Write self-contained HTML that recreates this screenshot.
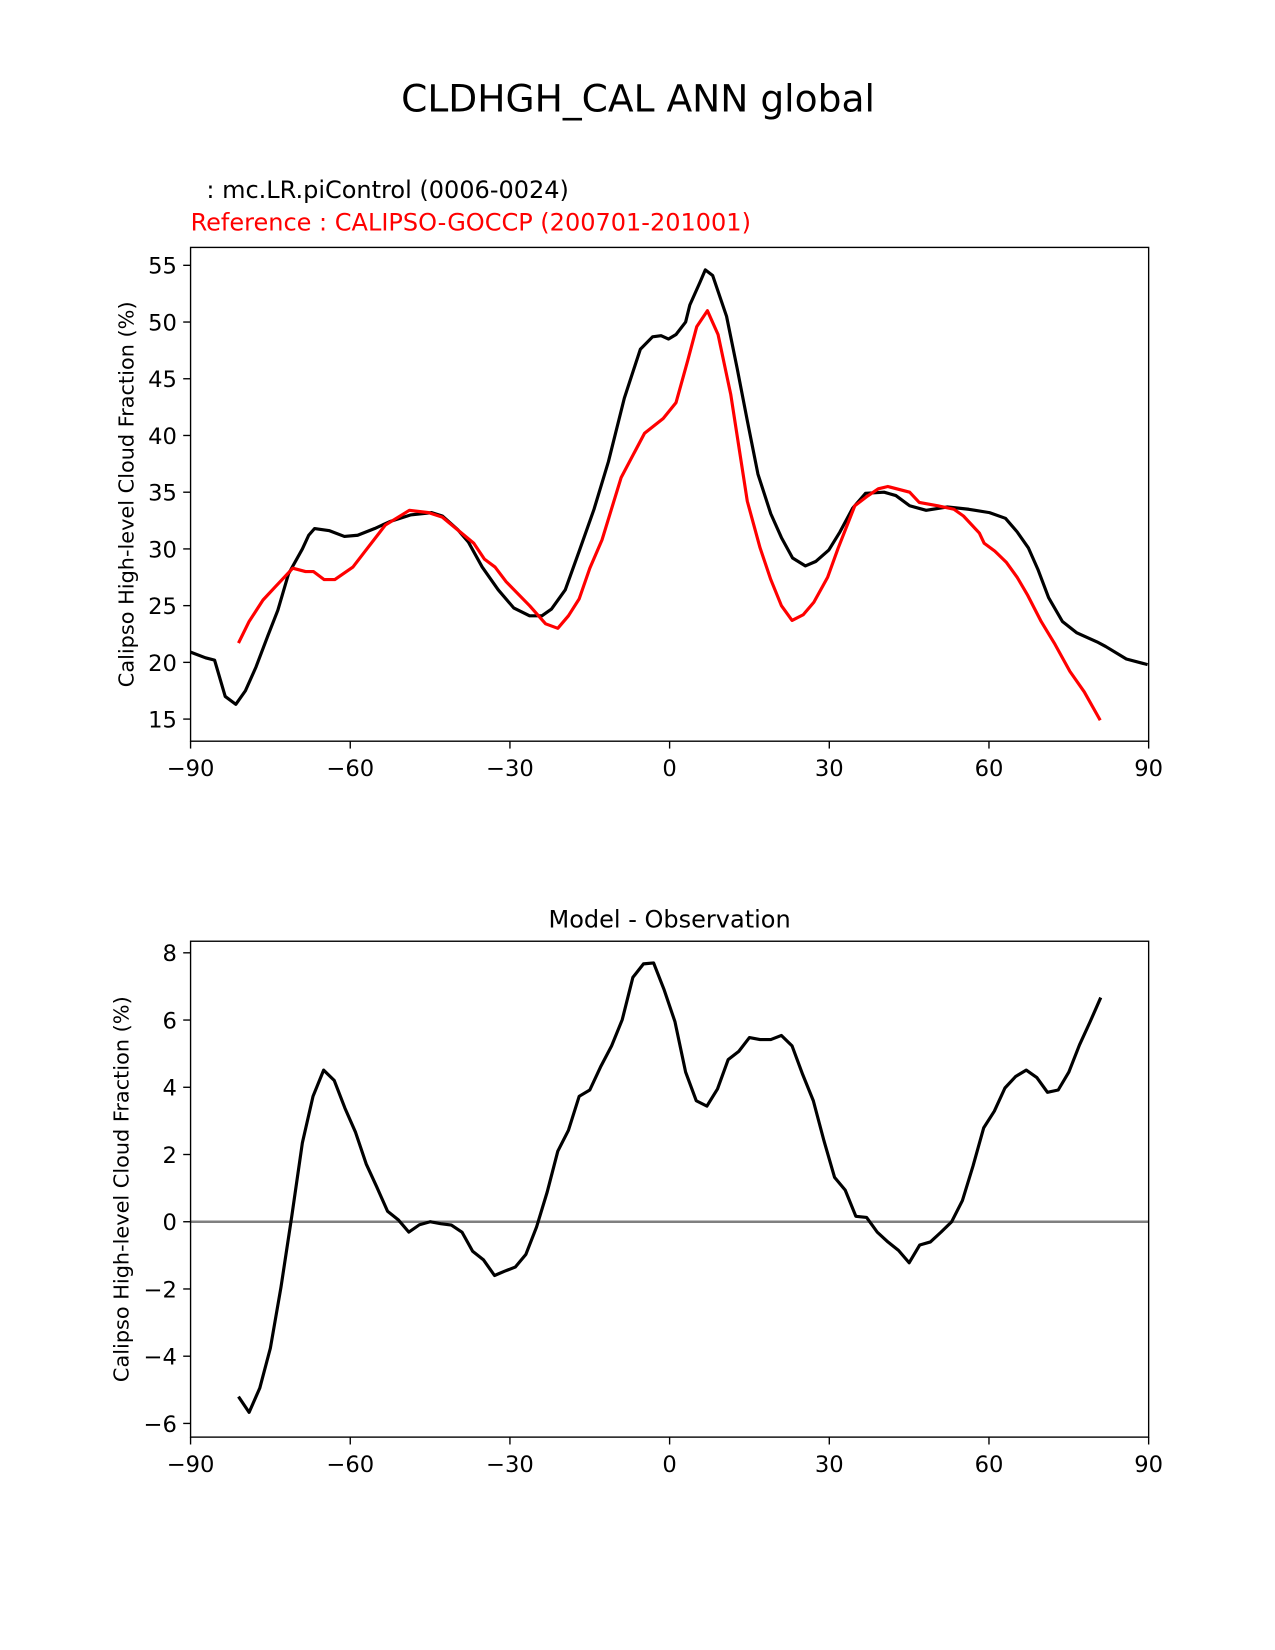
<!DOCTYPE html>
<html><head><meta charset="utf-8"><style>
html,body{margin:0;padding:0;background:#fff;}
svg{display:block;font-family:"DejaVu Sans","Liberation Sans",sans-serif;}
</style></head><body>
<svg id="fig" width="1275" height="1650" viewBox="0 0 1211 1567.2" xmlns="http://www.w3.org/2000/svg">
<text x="606" y="106" font-size="35.7" text-anchor="middle">CLDHGH_CAL ANN global</text>
<text x="196" y="188" font-size="22.8">: mc.LR.piControl (0006-0024)</text>
<text x="181" y="219" font-size="22.8" fill="#ff0000">Reference : CALIPSO-GOCCP (200701-201001)</text>
<text x="636" y="881" font-size="22.8" text-anchor="middle">Model - Observation</text>
<g id="top"></g>
<g id="bot"></g>
</svg>
<script>
const latModel=[-90,-87.2,-85.5,-83.5,-81.5,-79.7,-77.7,-75.6,-73.6,-71.6,-69,-67.8,-66.7,-63.9,-61.1,-58.6,-55.4,-52.6,-48.7,-44.7,-42.7,-39.8,-37.8,-35.2,-32.2,-29.3,-26.3,-24,-22.2,-19.6,-17,-14.2,-11.5,-8.5,-5.5,-3.2,-1.6,-0.2,1.2,3,3.8,5.7,6.7,8.1,10.7,12.7,14.6,16.6,19,21,23.1,25.5,27.5,29.9,32,34.4,36.8,40.3,42.5,45.1,48.2,52.2,56.2,60.1,63.1,65.3,67.4,69.2,71.2,73.8,76.5,80.3,81.9,85.8,89.8];
const valModel=[20.9,20.4,20.2,17.0,16.3,17.5,19.6,22.2,24.6,27.8,30,31.2,31.8,31.6,31.1,31.2,31.8,32.4,33.0,33.2,32.9,31.7,30.6,28.4,26.4,24.8,24.1,24.1,24.7,26.4,29.8,33.5,37.7,43.3,47.6,48.7,48.8,48.5,48.9,50.0,51.5,53.5,54.6,54.1,50.5,45.9,41.3,36.6,33.1,31,29.2,28.5,28.9,29.9,31.5,33.6,34.9,35,34.7,33.8,33.4,33.7,33.5,33.2,32.7,31.5,30.1,28.2,25.7,23.6,22.6,21.8,21.4,20.3,19.8];
const latObs=[-81,-79,-76.4,-74,-70.8,-68.4,-66.9,-64.9,-62.9,-59.5,-57.2,-53.4,-48.9,-45.3,-42.7,-36.8,-34.8,-32.8,-30.7,-26.3,-23.3,-21,-19,-17,-15,-12.7,-9.1,-4.7,-1.2,1.2,3.4,5.1,7.1,9.1,11.5,14.6,17,19,21,23,25.1,27.1,29.7,31.6,34.8,37,39.2,41,45.1,46.9,50.4,53.4,55.2,58.2,59.1,61.1,63.3,65.3,67.3,69.8,72.4,75.2,77.9,80.9];
const valObs=[21.7,23.6,25.5,26.7,28.3,28.0,28.0,27.3,27.3,28.4,29.8,32.1,33.4,33.2,32.8,30.5,29.1,28.4,27.1,25.0,23.4,23.0,24.1,25.6,28.3,30.8,36.3,40.2,41.5,42.9,46.6,49.6,51.0,48.9,43.6,34.2,30.1,27.3,25.0,23.7,24.2,25.3,27.5,30,33.8,34.6,35.3,35.5,35.0,34.1,33.8,33.5,32.9,31.4,30.5,29.8,28.8,27.5,25.9,23.6,21.6,19.2,17.4,14.9];
const latDiff=[-81,-79,-77,-75,-73,-71,-69,-67,-65,-63,-61,-59,-57,-55,-53,-51,-49,-47,-45,-43,-41,-39,-37,-35,-32.9,-31,-29,-27,-25,-23,-21,-19,-17,-15,-12.9,-10.9,-8.9,-6.9,-4.9,-3,-1,1,3,5,7,9,11,13,15,17,19,21,23,25,27,29,31,33,35,37,39,41,43,45,47,49,51,53,55,57,59,61,63,65,67,69,71,73,75,77,79,81];
const valDiff=[-5.2,-5.67,-4.95,-3.76,-1.94,0.16,2.35,3.73,4.51,4.2,3.38,2.66,1.72,1.03,0.31,0.06,-0.31,-0.09,0.0,-0.06,-0.1,-0.31,-0.88,-1.13,-1.6,-1.47,-1.35,-0.97,-0.16,0.88,2.1,2.72,3.73,3.92,4.63,5.23,6.01,7.27,7.67,7.7,6.89,5.95,4.45,3.6,3.44,3.95,4.82,5.07,5.48,5.42,5.42,5.54,5.23,4.38,3.6,2.41,1.32,0.94,0.16,0.13,-0.31,-0.6,-0.85,-1.22,-0.69,-0.6,-0.31,0,0.63,1.66,2.79,3.29,3.98,4.32,4.51,4.29,3.85,3.92,4.45,5.26,5.95,6.67];
const xTicks=[-90,-60,-30,0,30,60,90];
const xTickLabels=["\u221290","\u221260","\u221230","0","30","60","90"];
const yTicksTop=[15,20,25,30,35,40,45,50,55];
const yTicksBot=[-6,-4,-2,0,2,4,6,8];
const yTickLabelsBot=["\u22126","\u22124","\u22122","0","2","4","6","8"];

const NS="http://www.w3.org/2000/svg";
function mk(parent,tag,attrs){const e=document.createElementNS(NS,tag);for(const k in attrs)e.setAttribute(k,attrs[k]);parent.appendChild(e);return e;}
const X0=181,X1=1091;
const xs=v=>X0+(v+90)/180*(X1-X0);

function panel(g,top,bottom,yv0,yp0,yv1,yp1,yTicks,yLabels,name){
  const ys=v=>yp0+(v-yv0)*(yp1-yp0)/(yv1-yv0);
  xTicks.forEach((t,i)=>{
    const l=mk(g,'line',{x1:xs(t),x2:xs(t),y1:bottom,y2:bottom+7,stroke:'#000','stroke-width':1.3});
    
    
    const tx=mk(g,'text',{x:xs(t),y:bottom+33,'font-size':21.5,'text-anchor':'middle'});
    tx.textContent=xTickLabels[i];
    
    
  });
  yTicks.forEach((t,i)=>{
    const l=mk(g,'line',{x1:X0-7,x2:X0,y1:ys(t),y2:ys(t),stroke:'#000','stroke-width':1.3});
    
    
    const tx=mk(g,'text',{x:X0-13,y:ys(t)+8,'font-size':21.5,'text-anchor':'end'});
    tx.textContent=yLabels[i];
    
    
  });
  const yl=mk(g,'text',{transform:`translate(${name==='top'?127:122},${(top+bottom)/2}) rotate(-90)`,'font-size':19.8,'text-anchor':'middle'});
  yl.textContent='Calipso High-level Cloud Fraction (%)';
  
  
  return ys;
}
function line(g,lat,val,ys,color,nm,w){
  const d=lat.map((v,i)=>(i?'L':'M')+xs(v).toFixed(1)+','+ys(val[i]).toFixed(1)).join(' ');
  const p=mk(g,'path',{d:d,fill:'none',stroke:color,'stroke-width':w||3,'stroke-linejoin':'round'});
  
  
}
function frame(g,top,bottom){
  const r=mk(g,'rect',{x:X0,y:top,width:X1-X0,height:bottom-top,fill:'none',stroke:'#000','stroke-width':1.3});
  
  
}
const gt=document.getElementById('top');
const ysT=panel(gt,235,704,55,252,15,683,yTicksTop,yTicksTop.map(String),'top');
line(gt,latModel,valModel,ysT,'#000','model-line');
line(gt,latObs,valObs,ysT,'#ff0000','observation-line');
frame(gt,235,704);
const gb=document.getElementById('bot');
const ysB=panel(gb,894,1365,8,905,-6,1352,yTicksBot,yTickLabelsBot,'bot');
const z=mk(gb,'line',{x1:X0,x2:X1,y1:ysB(0),y2:ysB(0),stroke:'#808080','stroke-width':2.3});


line(gb,latDiff,valDiff,ysB,'#000','difference-line');
frame(gb,894,1365);
</script>
</body></html>
